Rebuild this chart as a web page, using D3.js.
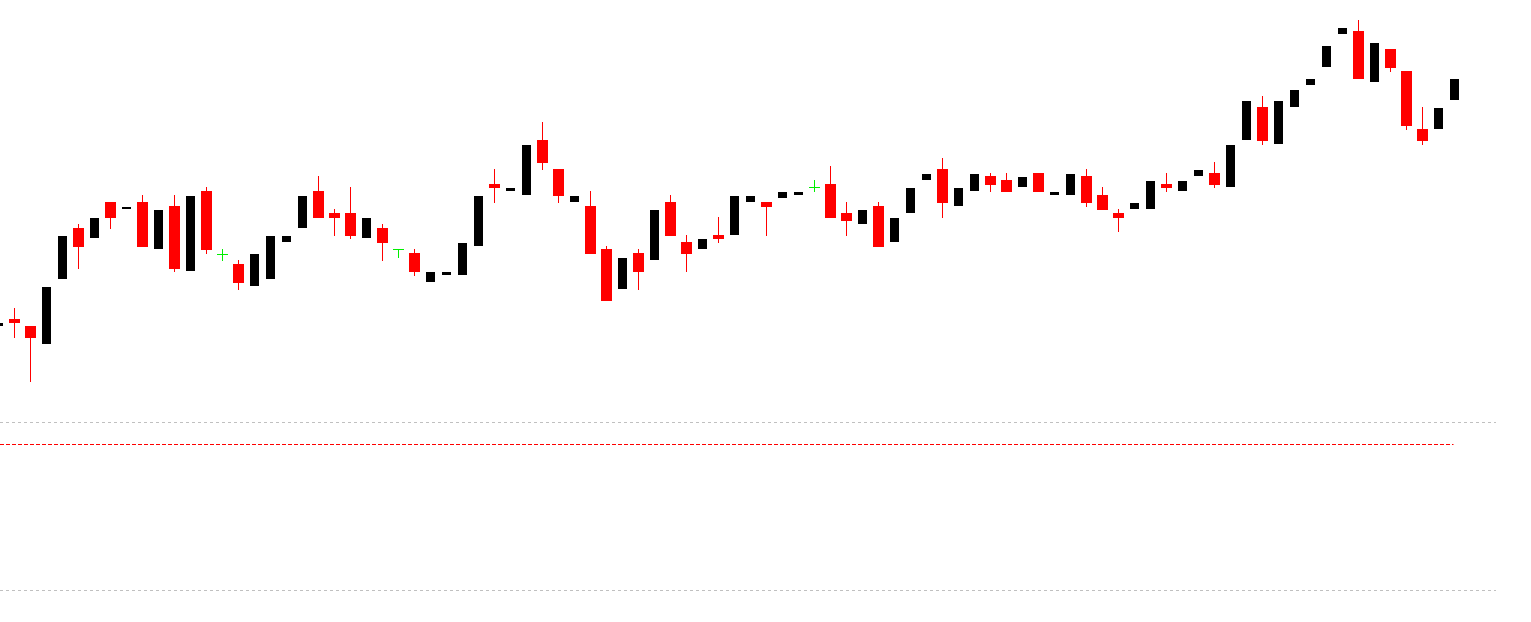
<!DOCTYPE html>
<html>
<head>
<meta charset="utf-8">
<script src="https://cdn.jsdelivr.net/npm/d3@7"></script>
<style>
  html, body { margin: 0; padding: 0; background: #fff; overflow: hidden; }
  svg { display: block; }
</style>
</head>
<body>
<svg id="chart" width="1531" height="622"></svg>
<script>
// ---- data ----
const opens  = [3096.3,3103,3096,3078.3,3143.3,3194,3184.3,3220,3213,3220,3173.3,3216,3151.3,3231,3167.7,3158,3136.3,3143.3,3180.3,3194.3,3231,3209,3209,3184.3,3194,3173,3169,3140.3,3147.3,3147.3,3176.3,3238,3231.3,3227.3,3282,3253,3220.3,3216,3173,3133.3,3169,3162.3,3220,3180,3173.3,3187,3187.3,3220.3,3220,3224.3,3227.3,3235,3238,3209,3198.3,3216,3180.3,3209.3,3242.3,3253,3216.3,3231.3,3246,3242,3235.3,3249,3227.3,3227.3,3246,3227,3209,3213.3,3213.3,3238,3231.3,3246.3,3249,3235.3,3282.3,3315,3278.3,3315.3,3337.3,3355.3,3388.3,3391,3340.3,3373,3351,3293,3293.3,3322.3];
const closes = [3099,3099,3084.3,3135,3186,3175.3,3204,3204.3,3215,3175.3,3212,3153.3,3226,3172.3,3167.7,3139.3,3168,3186,3186,3226,3204.3,3204.3,3186.3,3204,3179.3,3173,3150.3,3150,3150,3179,3226,3234.3,3234,3277,3259.3,3226.3,3226,3168.3,3121.3,3164,3150.3,3212,3186.3,3168.3,3183,3183.3,3226,3226,3215.3,3230,3230,3235,3204.3,3201.3,3212,3175.3,3204,3234,3248,3219.3,3234,3248,3237.3,3230.3,3245,3230.3,3230,3248,3219.3,3212.3,3204.3,3219,3241,3234.3,3241,3252,3237.3,3277,3321,3281.3,3321,3332,3343,3376,3394,3343.3,3379,3354.3,3296.3,3281.3,3314,3343];
const highs  = [3099,3114.3,3096,3135,3186,3198,3204,3220,3215,3227,3212,3227,3226,3235,3172.7,3162.3,3168,3186,3186,3226,3246,3213,3235,3204,3198,3173,3173,3150,3150,3179,3226,3253,3234,3277,3300,3253,3226,3231,3176,3164,3173,3212,3227,3187,3183,3205,3226,3226,3220,3230,3230,3242,3256,3220,3212,3220,3204,3234,3248,3264,3234,3248,3249,3249,3245,3249,3230,3248,3253,3235,3213,3219,3241,3249,3241,3252,3260,3277,3321,3326,3321,3332,3343,3376,3394,3402,3379,3373,3351,3315,3314,3343];
const lows   = [3096.3,3084.3,3040.3,3078.3,3143.3,3153.3,3184.3,3193.3,3213,3175.3,3173.3,3150.3,3151.3,3168.3,3161.3,3132.3,3136.3,3143.3,3180.3,3194.3,3204.3,3186.3,3183.3,3184.3,3161.3,3164.3,3146.3,3140.3,3147.3,3147.3,3176.3,3219.3,3231.3,3227.3,3252,3219.3,3220.3,3168.3,3121.3,3133.3,3132.3,3162.3,3186.3,3150.3,3173.3,3179.3,3187.3,3220.3,3186.3,3224.3,3227.3,3230.3,3204.3,3186.3,3198.3,3175.3,3180.3,3209.3,3242.3,3204.3,3216.3,3231.3,3230.3,3230.3,3235.3,3230.3,3227.3,3227.3,3215.3,3212.3,3190.3,3213.3,3213.3,3230.3,3231.3,3246.3,3234.3,3235.3,3282.3,3277.3,3278.3,3315.3,3337.3,3355.3,3388.3,3343.3,3340.3,3350.3,3292.3,3277.3,3293.3,3322.3];
const referenceLevels = [3000, 2832];   // grey dashed guide lines
const markLevel = 2978;                  // red dashed mark line

// ---- build ----
const W = 1531, H = 622;
const svg = d3.select("#chart");
const n = opens.length;
const x = d3.scaleBand().domain(d3.range(n)).range([-9.5, -9.5 + 16 * n]).padding(0);
const cx = i => x(i) + x.bandwidth() / 2;
const y = d3.scaleLinear().domain([2800, 3422]).range([H, 0]);
const gridRight = 1496;

const candles = d3.range(n).map(i => ({
  i, o: opens[i], c: closes[i], h: highs[i], l: lows[i]
}));
const colorOf = d => d.o === d.c ? "#00ee00" : (d.c > d.o ? "#000000" : "#ff0000");

// grey guide lines
svg.append("g").selectAll("line").data(referenceLevels).join("line")
  .attr("x1", 0).attr("x2", gridRight)
  .attr("y1", d => Math.round(y(d)) + 0.5).attr("y2", d => Math.round(y(d)) + 0.5)
  .attr("stroke", "#c0c0c0").attr("stroke-width", 1).attr("stroke-dasharray", "3,3");

// red mark line
svg.append("line")
  .attr("x1", 0).attr("x2", cx(n - 1) - 1)
  .attr("y1", Math.round(y(markLevel)) + 0.5).attr("y2", Math.round(y(markLevel)) + 0.5)
  .attr("stroke", "#ff0000").attr("stroke-width", 1).attr("stroke-dasharray", "4,2");

const g = svg.append("g");
// wicks
g.selectAll("line.wick").data(candles).join("line").attr("class", "wick")
  .attr("x1", d => Math.floor(cx(d.i)) + 0.5).attr("x2", d => Math.floor(cx(d.i)) + 0.5)
  .attr("y1", d => Math.round(y(d.h))).attr("y2", d => Math.round(y(d.l)))
  .attr("stroke", colorOf).attr("stroke-width", 1);
// bodies
g.selectAll("rect.body").data(candles.filter(d => d.o !== d.c)).join("rect").attr("class", "body")
  .attr("x", d => cx(d.i) - (d.c > d.o ? 4.5 : 5.5))
  .attr("width", d => d.c > d.o ? 9 : 11)
  .attr("y", d => Math.round(y(Math.max(d.o, d.c))))
  .attr("height", d => Math.max(1, Math.round(y(Math.min(d.o, d.c))) - Math.round(y(Math.max(d.o, d.c)))))
  .attr("fill", colorOf);
// doji bars
g.selectAll("line.doji").data(candles.filter(d => d.o === d.c)).join("line").attr("class", "doji")
  .attr("x1", d => cx(d.i) - 5.5).attr("x2", d => cx(d.i) + 5.5)
  .attr("y1", d => Math.floor(y(d.o)) + 0.5).attr("y2", d => Math.floor(y(d.o)) + 0.5)
  .attr("stroke", colorOf).attr("stroke-width", 1);
</script>
</body>
</html>
